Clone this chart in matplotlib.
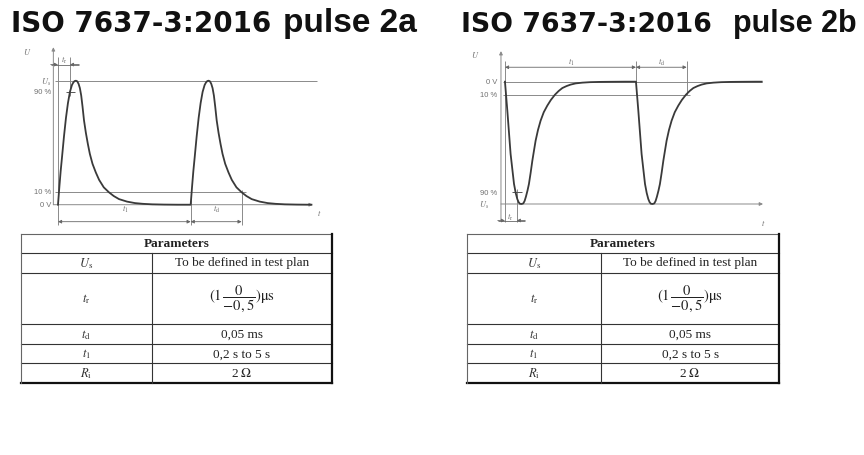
import numpy as np
import matplotlib
matplotlib.use('Agg')
import matplotlib.pyplot as plt

plt.rcParams['mathtext.fontset'] = 'stix'

# ---- data ----
# time in % of t1, voltage as fraction of Us
pulse_2a_t = [0, 1, 2, 3, 4.5, 6, 7.5, 9, 10.5, 11.5, 12.5, 13.5, 14.5, 15.5,
              16.5, 17.5, 18.5, 19.6, 21, 22.5, 24, 26, 28.5, 31, 34.5, 38.4,
              42, 46, 52, 58, 64, 71, 80, 90]
pulse_2a_u = [0, .14, .27, .38, .55, .7, .82, .91, .965, .985, .997, 1.0, .995, .975,
              .94, .88, .79, .68, .58, .49, .41, .33, .26, .2, .14, .10,
              .07, .045, .025, .013, .007, .003, .001, 0]

pulse_2b_t = [0, 1.8, 4.3, 6.9, 8.2, 9.4, 10.4, 11.4, 12.7, 14, 15, 16, 17.2, 18.3,
              19.6, 20.9, 22.2, 23.4, 25.2, 27.2, 29.6, 32.3, 35, 38.2, 41, 43.8,
              47, 50.1, 54, 59, 65, 71.8, 80, 92]
pulse_2b_u = [0, -.237, -.591, -.836, -.91, -.959, -.985, -.998, -1.0, -.995, -.975, -.94,
              -.89, -.836, -.745, -.646, -.56, -.482, -.395, -.319, -.25, -.196, -.15,
              -.106, -.076, -.052, -.036, -.024, -.014, -.008, -.004, -.002, -.001, 0]

pulse_starts = [0, 100]     # t1 = 100
td_2a = 38.4
td_2b = 38.7
tr_mark = 9

param_names = [r'$U_\mathrm{s}$', r'$t_\mathrm{r}$', r'$t_\mathrm{d}$',
               r'$t_1$', r'$R_\mathrm{i}$']
param_values = ['To be defined in test plan',
                r'$(1\,\dfrac{0}{-0,5})\mathrm{\mu s}$',
                '0,05 ms', '0,2 s to 5 s', r'2 $\Omega$']

W, H = 864, 456
fig = plt.figure(figsize=(W / 100, H / 100), dpi=100)

def px_axes(left, right, top, bottom):
    ax = fig.add_axes([left / W, 1 - bottom / H, (right - left) / W, (bottom - top) / H])
    ax.set_axis_off()
    return ax

grey = '#8a8a8a'
wave_c = '#3a3a3a'
lab_c = '#707070'

def arrow(ax, x0, x1, y, style='<|-|>'):
    ax.annotate('', xy=(x1, y), xytext=(x0, y),
                arrowprops=dict(arrowstyle=style, color='#666', lw=0.6,
                                mutation_scale=5, shrinkA=0, shrinkB=0))

def axis_arrow(ax, p0, p1):
    ax.annotate('', xy=p1, xytext=p0,
                arrowprops=dict(arrowstyle='-|>', color=grey, lw=0.7,
                                mutation_scale=5, shrinkA=0, shrinkB=0))

def waveform(ax, pt, pu, t_end):
    tt = np.concatenate([np.array(pt) + s for s in pulse_starts] + [[t_end]])
    uu = np.concatenate([np.array(pu)] * len(pulse_starts) + [[0]])
    ax.plot(tt, uu, color=wave_c, lw=1.3, solid_joinstyle='round', zorder=3)

# ---- pulse 2a ----
ax1 = px_axes(20.05, 330, 45, 230)
ax1.set_xlim(-28.6, 205)
ax1.set_ylim(-0.196, 1.296)
ax1.hlines([1.0], -2.3, 195, color=grey, lw=0.7)
ax1.hlines([0.1], -2.3, 142, color=grey, lw=0.7)
axis_arrow(ax1, (-3.5, 0), (192, 0))
axis_arrow(ax1, (-3.5, 0), (-3.5, 1.27))
ax1.vlines(0, -0.16, 1.19, color=grey, lw=0.7)
ax1.vlines(tr_mark, 0.88, 1.19, color=grey, lw=0.7)
ax1.hlines(0.91, tr_mark - 3, tr_mark + 4, color='#555', lw=0.7)
ax1.vlines([pulse_starts[1], pulse_starts[1] + td_2a], -0.16, 0.12, color=grey, lw=0.7)
arrow(ax1, 0, pulse_starts[1], -0.137)
arrow(ax1, pulse_starts[1], pulse_starts[1] + td_2a, -0.137)
ax1.hlines(1.13, -5.5, tr_mark + 7, color='#666', lw=0.6)
arrow(ax1, -5.5, 0, 1.13, '-|>')
arrow(ax1, tr_mark + 7, tr_mark, 1.13, '-|>')
waveform(ax1, pulse_2a_t, pulse_2a_u, 191)

# ---- pulse 2b ----
ax2 = px_axes(462, 776, 45, 229.95)
ax2.set_xlim(-32.8, 206.9)
ax2.set_ylim(-1.204, 0.308)
ax2.hlines([0], -1.5, 196, color=grey, lw=0.7)
ax2.hlines([-0.106], -1.5, 141, color=grey, lw=0.7)
axis_arrow(ax2, (-3.05, -1.0), (197, -1.0))
axis_arrow(ax2, (-3.05, -1.13), (-3.05, 0.25))
ax2.vlines(0, -1.15, 0.17, color=grey, lw=0.7)
ax2.vlines(tr_mark, -1.15, -0.88, color=grey, lw=0.7)
ax2.hlines(-0.905, tr_mark - 3.5, tr_mark + 4, color='#555', lw=0.7)
ax2.vlines([pulse_starts[1], pulse_starts[1] + td_2b], -0.106, 0.17, color=grey, lw=0.7)
arrow(ax2, 0, pulse_starts[1], 0.118)
arrow(ax2, pulse_starts[1], pulse_starts[1] + td_2b, 0.118)
ax2.hlines(-1.135, -5.5, tr_mark + 6.5, color='#666', lw=0.6)
arrow(ax2, -5.5, 0, -1.135, '-|>')
arrow(ax2, tr_mark + 6.5, tr_mark, -1.135, '-|>')
waveform(ax2, pulse_2b_t, pulse_2b_u, 196)

# ---- overlay in pixel units for text and tables ----
ov = fig.add_axes([0, 0, 1, 1], zorder=5)
ov.set_xlim(0, W)
ov.set_ylim(H, 0)
ov.set_axis_off()
ov.patch.set_alpha(0)

# titles
for x_iso, s_iso, x_pulse, s_pulse, name in [(11, 20, 283, 24, 'pulse 2a'),
                                              (461, 19.3, 733, 22, 'pulse 2b')]:
    ov.text(x_iso, 32, 'ISO 7637-3:2016', fontfamily='DejaVu Sans',
            fontweight='bold', fontsize=s_iso, va='baseline', color='#111')
    ov.text(x_pulse, 32, name, fontfamily='Liberation Sans',
            fontweight='bold', fontsize=s_pulse, va='baseline', color='#111')

def lab(x, y, s, ha='center', size=5.5):
    ov.text(x, y, s, ha=ha, va='center', fontsize=size, color=lab_c,
            fontfamily='Liberation Sans')

# labels 2a
lab(27, 52, r'$U$', size=6)
lab(51.5, 82, r'$U_\mathrm{s}$', ha='right', size=6)
lab(51.5, 93, '90 %', ha='right')
lab(51.5, 193, '10 %', ha='right')
lab(51.5, 205.7, '0 V', ha='right')
lab(319, 213, r'$t$', size=6)
lab(64, 60.5, r'$t_\mathrm{r}$', size=6)
lab(125, 209.5, r'$t_1$', size=6)
lab(216.7, 209.5, r'$t_\mathrm{d}$', size=6)

# labels 2b
lab(475.7, 55, r'$U$', size=6)
lab(497, 82.7, '0 V', ha='right')
lab(497, 95.7, '10 %', ha='right')
lab(497, 193.3, '90 %', ha='right')
lab(489, 205, r'$U_\mathrm{s}$', ha='right', size=6)
lab(763, 223, r'$t$', size=6)
lab(510, 217, r'$t_\mathrm{r}$', size=6)
lab(571.7, 62, r'$t_1$', size=6)
lab(661.7, 62, r'$t_\mathrm{d}$', size=6)

# tables
row_h = [18.5, 20, 51, 20.5, 19, 19.5]

def table(x0, x1, xdiv, y0):
    edges = y0 + np.concatenate([[0], np.cumsum(row_h)])
    for y in edges[1:-1]:
        ov.plot([x0, x1], [y, y], color='#333', lw=0.8)
    ov.plot([x0, x1], [edges[0], edges[0]], color='#666', lw=0.8)
    ov.plot([x0, x1], [edges[-1], edges[-1]], color='#111', lw=1.6)
    ov.plot([x0, x0], [edges[0], edges[-1]], color='#666', lw=0.8)
    ov.plot([x1, x1], [edges[0], edges[-1]], color='#111', lw=1.6)
    ov.plot([xdiv, xdiv], [edges[1], edges[-1]], color='#333', lw=0.8)
    mids = (edges[:-1] + edges[1:]) / 2
    ov.text((x0 + x1) / 2, mids[0], 'Parameters', ha='center', va='center',
            fontfamily='Liberation Serif', fontweight='bold', fontsize=9.5, color='#222')
    for i, (name, val, ym) in enumerate(zip(param_names, param_values, mids[1:])):
        ov.text((x0 + xdiv) / 2, ym, name, ha='center', va='center',
                fontsize=9, color='#333')
        ov.text((xdiv + x1) / 2, ym, val, ha='center', va='center',
                fontfamily='Liberation Serif', fontsize=10.5 if i == 1 else 9.5,
                color='#222')

table(21, 332, 151.7, 235)
table(466.7, 779.3, 601, 235)

fig.savefig('out.png', dpi=100, facecolor='white')
